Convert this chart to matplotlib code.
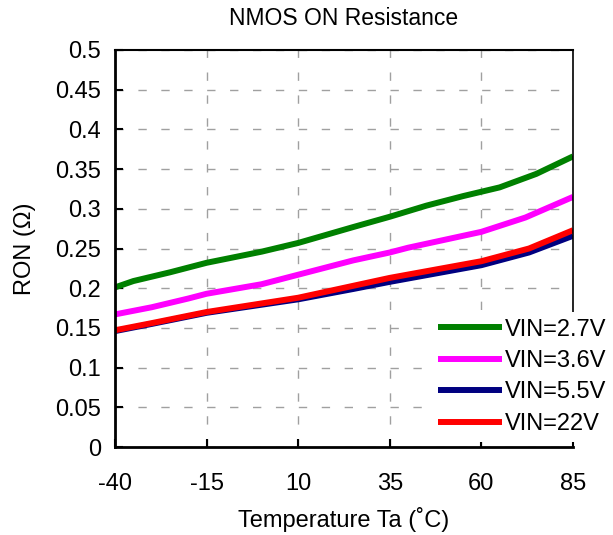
import numpy as np
import matplotlib
matplotlib.use("Agg")
import matplotlib.pyplot as plt

# data
temp_green = [-40, -35, -25, -15, 0, 10, 25, 35, 45, 55, 65, 75, 85]
ron_27v = [0.201, 0.209, 0.220, 0.232, 0.246, 0.257, 0.277, 0.290, 0.304, 0.316, 0.327, 0.344, 0.366]

temp_mag = [-40, -30, -20, -15, 0, 10, 25, 35, 40, 50, 60, 72, 85]
ron_36v = [0.167, 0.176, 0.187, 0.193, 0.205, 0.217, 0.235, 0.245, 0.251, 0.261, 0.271, 0.289, 0.315]

temp_low = [-40, -30, -15, 10, 25, 35, 60, 73, 85]
ron_55v = [0.146, 0.155, 0.169, 0.186, 0.199, 0.208, 0.229, 0.245, 0.266]
ron_22v = [0.147, 0.156, 0.170, 0.188, 0.203, 0.213, 0.234, 0.250, 0.273]

x_ticks = [-40, -15, 10, 35, 60, 85]
y_ticks = [0, 0.05, 0.1, 0.15, 0.2, 0.25, 0.3, 0.35, 0.4, 0.45, 0.5]
y_labels = ["0", "0.05", "0.1", "0.15", "0.2", "0.25", "0.3", "0.35", "0.4", "0.45", "0.5"]

plt.rcParams['font.family'] = ['Liberation Sans', 'DejaVu Sans']
FS = 17

fig = plt.figure(figsize=(6.13, 5.35), dpi=100)
ax = fig.add_axes([115 / 613, 88 / 535, 458 / 613, 397 / 535])

lw = 4.3
ax.plot(temp_green, ron_27v, color='#008000', lw=lw, label='VIN=2.7V', solid_capstyle='butt')
ax.plot(temp_mag, ron_36v, color='#ff00ff', lw=lw, label='VIN=3.6V', solid_capstyle='butt')
ax.plot(temp_low, ron_55v, color='#000080', lw=lw, label='VIN=5.5V', solid_capstyle='butt')
ax.plot(temp_low, ron_22v, color='#ff0000', lw=lw, label='VIN=22V', solid_capstyle='butt')

ax.set_xlim(-40, 85)
ax.set_ylim(0, 0.5)
ax.set_xticks(x_ticks)
ax.set_xticklabels([str(t) for t in x_ticks])
ax.set_yticks(y_ticks)
ax.set_yticklabels(y_labels)

ax.grid(True, color='#a0a0a0', lw=1, dashes=(6, 10.5))
ax.set_axisbelow(True)

ax.tick_params(direction='in', length=6, width=1.5, labelsize=FS, colors='black')
ax.tick_params(axis='x', pad=19)
ax.tick_params(axis='y', pad=10)
for side in ['left', 'bottom']:
    ax.spines[side].set_linewidth(2)
ax.spines['top'].set_linewidth(1.5)
ax.spines['right'].set_linewidth(1.2)

ax.set_title('NMOS ON Resistance', fontsize=FS - 0.5, pad=18)
ax.set_xlabel('Temperature Ta (˚C)', fontsize=FS, labelpad=8)
ax.set_ylabel('RON (Ω)', fontsize=FS, labelpad=14)

leg = ax.legend(loc='lower right', bbox_to_anchor=(613 / 613, 93 / 535),
                bbox_transform=fig.transFigure, fontsize=FS, frameon=True,
                handlelength=2.7, handletextpad=0.1, labelspacing=0.4,
                borderpad=0.3, borderaxespad=0)
leg.get_frame().set_edgecolor('none')
leg.get_frame().set_facecolor('white')
leg.get_frame().set_alpha(1)
for h in leg.get_lines():
    h.set_linewidth(lw)

fig.savefig('out.png', dpi=100)
